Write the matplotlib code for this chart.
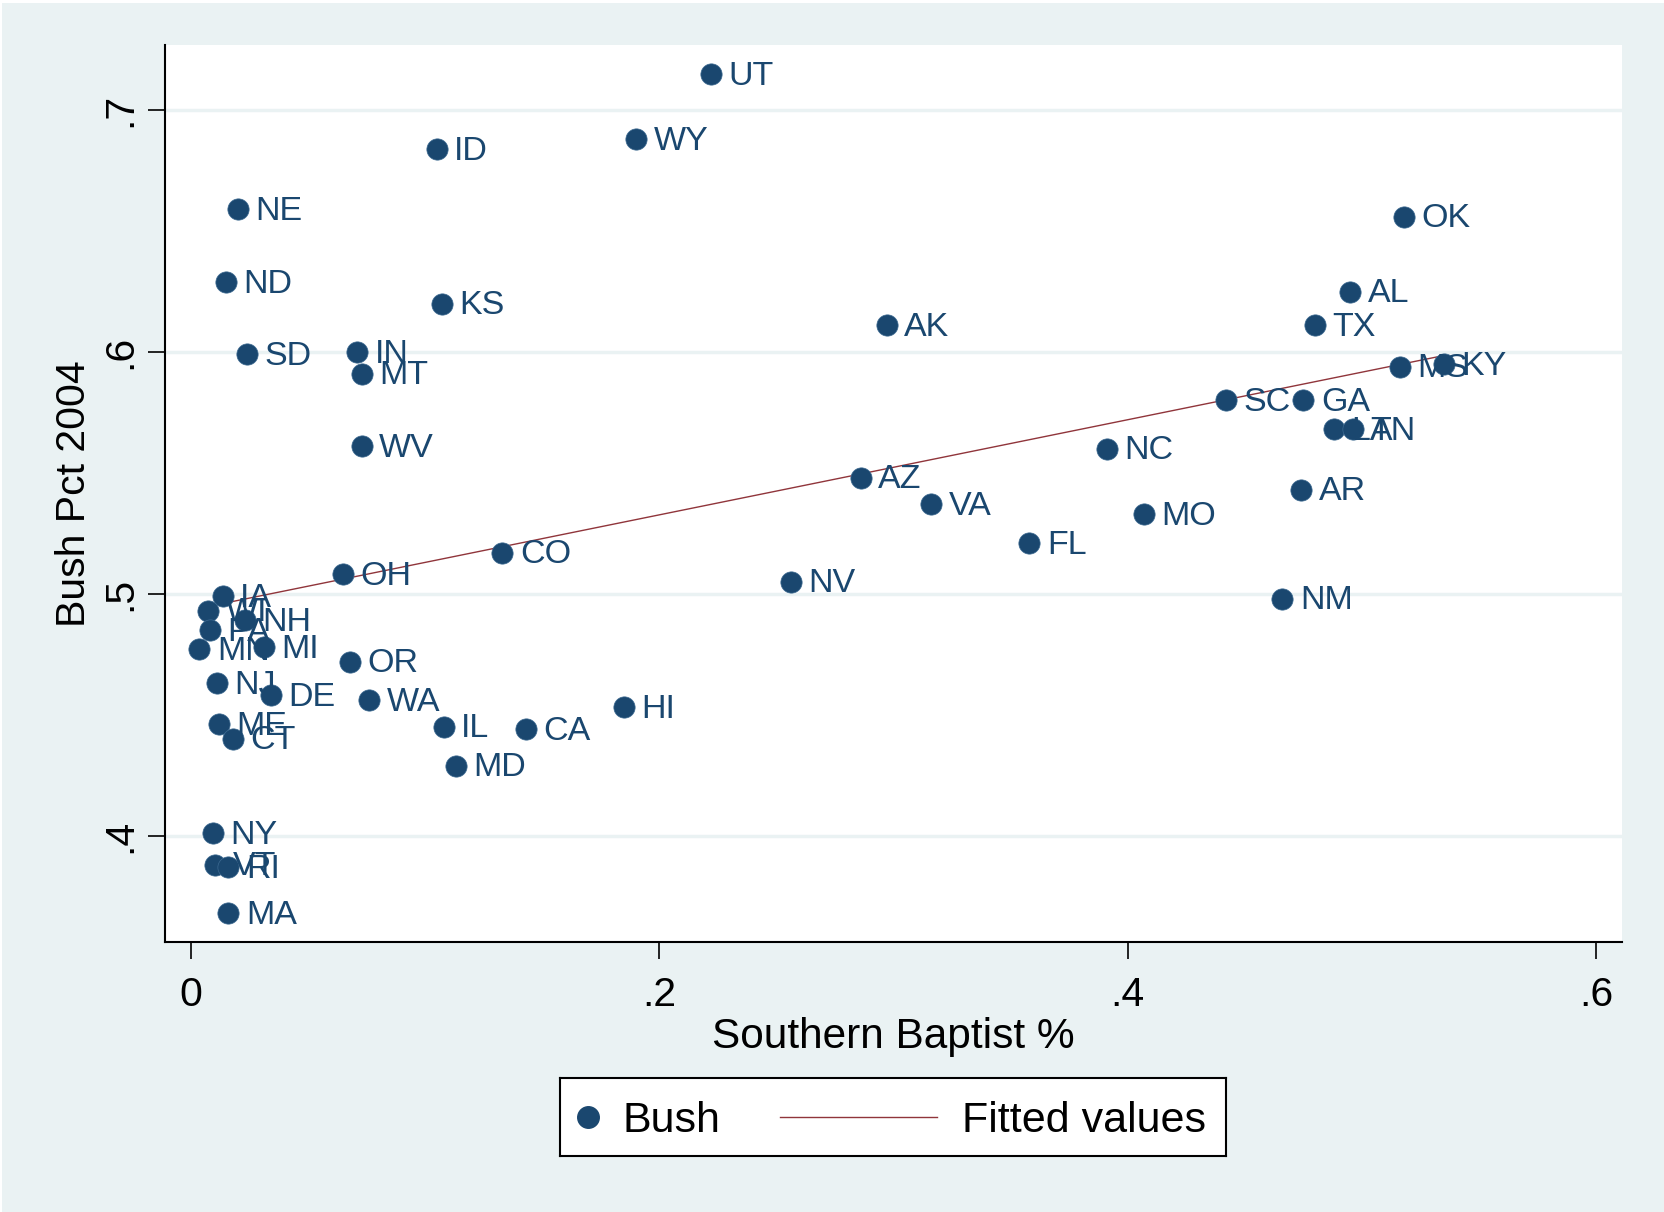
import matplotlib

matplotlib.use("Agg")
import matplotlib.pyplot as plt
import numpy as np

# Southern Baptist share vs. Bush vote share 2004, by state
states = [
    "UT", "WY", "ID", "NE", "ND", "KS", "SD", "IN", "MT", "WV",
    "AK", "OK", "AL", "TX", "MS", "KY", "SC", "GA", "LA", "TN",
    "NC", "AR", "MO", "AZ", "VA", "FL", "CO", "OH", "NV", "NM",
    "HI", "IL", "CA", "MD", "OR", "WA", "DE", "MI", "IA", "WI",
    "NH", "PA", "MN", "NJ", "ME", "CT", "NY", "VT", "RI", "MA",
]
baptist = [
    0.222, 0.190, 0.105, 0.020, 0.015, 0.107, 0.024, 0.071, 0.073, 0.073,
    0.297, 0.518, 0.495, 0.480, 0.516, 0.535, 0.442, 0.475, 0.488, 0.496,
    0.391, 0.474, 0.407, 0.286, 0.316, 0.358, 0.133, 0.065, 0.256, 0.466,
    0.185, 0.108, 0.143, 0.113, 0.068, 0.076, 0.034, 0.031, 0.0136, 0.0073,
    0.023, 0.008, 0.0036, 0.011, 0.012, 0.018, 0.0095, 0.0104, 0.016, 0.016,
]
bush = [
    0.715, 0.688, 0.684, 0.659, 0.629, 0.620, 0.599, 0.600, 0.591, 0.561,
    0.611, 0.656, 0.625, 0.611, 0.594, 0.595, 0.580, 0.580, 0.568, 0.568,
    0.560, 0.543, 0.533, 0.548, 0.537, 0.521, 0.517, 0.508, 0.505, 0.498,
    0.453, 0.445, 0.444, 0.429, 0.472, 0.456, 0.458, 0.478, 0.499, 0.493,
    0.489, 0.485, 0.477, 0.463, 0.446, 0.440, 0.401, 0.388, 0.387, 0.368,
]
x_ticks = [0, 0.2, 0.4, 0.6]
x_tick_labels = ["0", ".2", ".4", ".6"]
y_ticks = [0.4, 0.5, 0.6, 0.7]
y_tick_labels = [".4", ".5", ".6", ".7"]

NAVY = "#1a476f"
MAROON = "#90353b"
BG = "#eaf2f3"

plt.rcParams["font.family"] = ["Liberation Sans", "DejaVu Sans"]

W, H = 1664, 1212
fig = plt.figure(figsize=(W / 100, H / 100), dpi=100, facecolor="white")
fig.patches.append(plt.Rectangle((2 / W, 0), 1, 1 - 3 / H, transform=fig.transFigure,
                                 facecolor=BG, edgecolor="none", zorder=-10))

left, top, right, bottom = 165, 45, 1622, 942
ax = fig.add_axes([left / W, 1 - bottom / H, (right - left) / W, (bottom - top) / H])
ax.set_facecolor("white")

x = np.array(baptist)
y = np.array(bush)

ax.set_xlim(-0.0111, 0.611)
ax.set_ylim(0.356, 0.727)

for yt in y_ticks:
    ax.axhline(yt, color=BG, lw=2.5, zorder=0)

ax.scatter(x, y, s=235, color=NAVY, edgecolors="#3d6a91", linewidths=0.5, zorder=3)
for xi, yi, name in zip(x, y, states):
    ax.annotate(name, (xi, yi), xytext=(12.5, -1.5), textcoords="offset points",
                va="center", ha="left", fontsize=24.5, color=NAVY, zorder=4)

slope, intercept = np.polyfit(x, y, 1)
xs = np.array([x.min(), x.max()])
ax.plot(xs, intercept + slope * xs, color=MAROON, lw=1.0, zorder=2)

for side in ["top", "right"]:
    ax.spines[side].set_visible(False)
for side in ["left", "bottom"]:
    ax.spines[side].set_linewidth(1.5)

ax.set_xticks(x_ticks)
ax.set_xticklabels(x_tick_labels)
ax.set_yticks(y_ticks)
ax.set_yticklabels(y_tick_labels, rotation=90, va="center")
ax.tick_params(axis="both", length=12.5, width=1.2, direction="out", labelsize=29.5)
ax.tick_params(axis="x", pad=12)
ax.tick_params(axis="y", pad=6)

ax.set_xlabel("Southern Baptist %", fontsize=30.5, labelpad=2)
ax.set_ylabel("Bush Pct 2004", fontsize=29.5, labelpad=6)

# legend box drawn in pixel units
lx0, ly0, lx1, ly1 = 560, 1078, 1226, 1156
lax = fig.add_axes([lx0 / W, 1 - ly1 / H, (lx1 - lx0) / W, (ly1 - ly0) / H])
lax.set_xlim(0, lx1 - lx0)
lax.set_ylim(0, ly1 - ly0)
lax.set_xticks([])
lax.set_yticks([])
for s in lax.spines.values():
    s.set_linewidth(1.5)
    s.set_color("black")
lax.plot([28], [39], "o", ms=15.5, color=NAVY)
lax.text(63, 35, "Bush", fontsize=31, va="center", ha="left")
lax.plot([220, 377], [39, 39], color=MAROON, lw=1.0)
lax.text(402, 35, "Fitted values", fontsize=31, va="center", ha="left")

fig.savefig("out.png", dpi=100, facecolor=fig.get_facecolor())
